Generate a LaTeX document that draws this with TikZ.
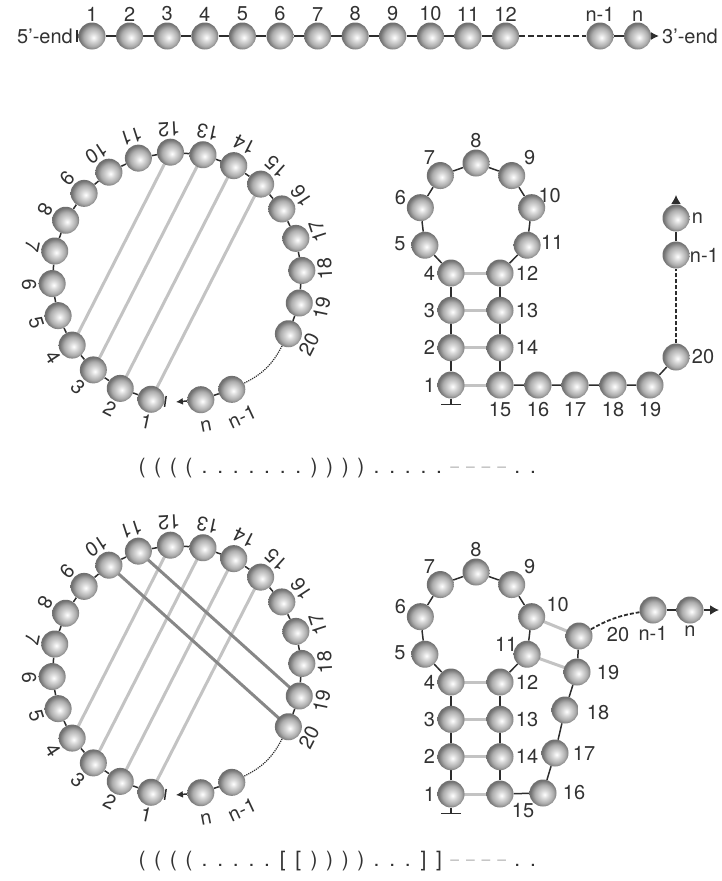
\documentclass[tikz,border=0pt]{standalone}
\usepackage{fontspec}
\setmainfont{TeX Gyre Heros}
\usetikzlibrary{arrows.meta,positioning,calc,backgrounds}

\definecolor{chainGray}{RGB}{45,45,45}
\definecolor{pairGray}{RGB}{195,195,195}
\definecolor{knotGray}{RGB}{135,135,135}
\definecolor{textGray}{RGB}{50,50,50}

\pgfdeclareradialshading{beadball}{\pgfqpoint{3bp}{-3bp}}{%
  color(0bp)=(white); color(7bp)=(black!14); color(17bp)=(black!32);
  color(25bp)=(black!56); color(50bp)=(black!56)}

\newcommand\brO{(}
\newcommand\brC{)}
\newcommand\sqO{[}
\newcommand\sqC{]}
\newcommand\dotU{.}
\newcommand\dashU{\textcolor{pairGray}{\scalebox{0.75}[1]{--}}}

\tikzset{
  bead/.style={circle,minimum size=27pt,inner sep=0pt,shading=beadball},
  chain/.style={chainGray,line width=1.5pt},
  pair/.style={pairGray,line width=3pt},
  knot/.style={knotGray,line width=3pt},
  lbl/.style={font=\fontsize{20}{20}\selectfont,text=textGray,inner sep=1pt},
  db/.style={font=\fontsize{21}{21}\selectfont,text=textGray,inner sep=0pt,anchor=base},
}

\begin{document}
\begin{tikzpicture}[x=1pt,y=1pt]
\useasboundingbox (0,0) rectangle (721,-881);

% linear chain
\foreach \k in {1,...,12}{
  \node[bead] (t\k) at ({92+37.6*(\k-1)},-36) {};
  \node[lbl,above=0pt of t\k] (tl\k) {\k};
}
\node[bead] (tn1) at (600,-36) {};
\node[bead] (tn) at (637.6,-36) {};
\node[lbl,above=0pt of tn1] (tln1) {n-1};
\node[lbl,above=0pt of tn] (tln) {n};
\coordinate (t5p) at (76,-36);
\coordinate (t3p) at (659,-36);
\node[lbl,anchor=east] (t5end) at (74,-36) {5'-end};
\node[lbl,anchor=west] (t3end) at (661,-36) {3'-end};
\begin{scope}[on background layer]
  \foreach \k in {2,...,12}{
    \pgfmathtruncatemacro\j{\k-1}
    \draw[chain] (t\j) -- (t\k);
  }
  \draw[chain,line width=2.2pt,dash pattern=on 6pt off 3pt] (t12) -- (tn1);
  \draw[chain] (tn1) -- (tn);
  \draw[chain,-{Bar[width=12pt]}] (t1) -- (t5p);
  \draw[chain,-{Latex[length=8pt,width=8pt]}] (tn) -- (t3p);
\end{scope}

% circular layouts
\foreach \cy/\cn in {-277/a,-670/b}{
  \begin{scope}[shift={(177,\cy)}]
    \foreach \k in {1,...,20}{
      \pgfmathsetmacro\ang{258-15*(\k-1)}
      \pgfmathsetmacro\rot{\ang+90}
      \node[bead] (\cn\k) at (\ang:125) {};
      \node[lbl,rotate=\rot] (\cn l\k) at (\ang:148) {\k};
    }
    \node[bead] (\cn n1) at (-64:125) {};
    \node[bead] (\cn n) at (-79:125) {};
    \node[lbl,rotate=25] (\cn ln1) at (-65:154) {n-1};
    \node[lbl,rotate=11] (\cn ln) at (-79:152) {n};
    \coordinate (\cn 5p) at (-95:125);
    \coordinate (\cn 3p) at (-90.5:125);
  \end{scope}
  \begin{scope}[on background layer]
    \foreach \k in {2,...,20}{
      \pgfmathtruncatemacro\j{\k-1}
      \draw[chain] (\cn\j) -- (\cn\k);
    }
    \draw[chain,line width=1.2pt,densely dotted] (\cn20) to[bend left=18] (\cn n1);
    \draw[chain] (\cn n1) -- (\cn n);
    \draw[chain,-{Bar[width=11pt]}] (\cn1) -- (\cn 5p);
    \draw[chain,-{Latex[length=7pt,width=7pt]}] (\cn n) -- (\cn 3p);
    \foreach \i/\j in {1/15,2/14,3/13,4/12}
      \draw[pair] (\cn\i.center) -- (\cn\j.center);
  \end{scope}
}
\begin{scope}[on background layer]
  \draw[knot] (b10.center) -- (b20.center);
  \draw[knot] (b11.center) -- (b19.center);
\end{scope}

% hairpins: stem and loop
\foreach \sy/\sn in {0/p,-409/q}{
  \foreach \k/\yy in {1/-385,2/-347.7,3/-310.3,4/-273}{
    \pgfmathtruncatemacro\m{16-\k}
    \node[bead] (\sn\k) at (451,\yy+\sy) {};
    \node[bead] (\sn\m) at (500,\yy+\sy) {};
    \node[lbl,left=1pt of \sn\k] (\sn l\k) {\k};
  }
  \foreach \k in {5,...,11}{
    \pgfmathsetmacro\ang{245-38.75*(\k-4)}
    \node[bead] (\sn\k) at ($(476,-220+\sy)+(\ang:57)$) {};
  }
  \foreach \k/\dx/\dy in {5/-25/2,6/-20/10,7/-11/18,8/0/22,9/18/18}
    \node[lbl] (\sn l\k) at ([shift={(\dx,\dy)}]\sn\k) {\k};
  \foreach \k in {12,13,14}
    \node[lbl,right=1pt of \sn\k] (\sn l\k) {\k};
  \coordinate (\sn 5p) at ([yshift=-20pt]\sn1.center);
  \begin{scope}[on background layer]
    \foreach \k in {2,...,15}{
      \pgfmathtruncatemacro\j{\k-1}
      \draw[chain] (\sn\j) -- (\sn\k);
    }
    \foreach \i/\j in {1/15,2/14,3/13,4/12}
      \draw[pair] (\sn\i.center) -- (\sn\j.center);
    \draw[chain,-{Bar[width=20pt]}] (\sn1) -- (\sn 5p);
  \end{scope}
}

% hairpin 1: tail
\node[bead] (p16) at (538,-385) {};
\node[bead] (p17) at (575,-385) {};
\node[bead] (p18) at (613,-385) {};
\node[bead] (p19) at (650,-385) {};
\node[bead] (p20) at (676,-357) {};
\node[bead] (pn1) at (676,-255) {};
\node[bead] (pn) at (676,-218) {};
\coordinate (p3p) at (676,-195);
\node[lbl] (pl10) at ([shift={(18,12)}]p10) {10};
\node[lbl] (pl11) at ([shift={(25,3)}]p11) {11};
\foreach \k in {15,...,19}
  \node[lbl,below=2pt of p\k] (pl\k) {\k};
\node[lbl,right=1pt of p20] (pl20) {20};
\node[lbl,inner sep=0pt,right=0pt of pn1] (pln1) {n-1};
\node[lbl,right=1pt of pn] (pln) {n};
\begin{scope}[on background layer]
  \draw[chain] (p15) -- (p16) -- (p17) -- (p18) -- (p19) -- (p20);
  \draw[chain,line width=1.8pt,dash pattern=on 4pt off 2pt] (p20) -- (pn1);
  \draw[chain] (pn1) -- (pn);
  \draw[chain,-{Latex[length=9pt,width=10pt]}] (pn) -- (p3p);
\end{scope}

% hairpin 2: tail with pseudoknot
\node[bead] (q16) at (543,-793) {};
\node[bead] (q17) at (555,-753) {};
\node[bead] (q18) at (565,-710) {};
\node[bead] (q19) at (577,-672) {};
\node[bead] (q20) at (579,-636) {};
\node[bead] (qn1) at (653,-610) {};
\node[bead] (qn) at (690,-610) {};
\coordinate (q3p) at (719,-610);
\node[lbl] (ql10) at ([shift={(26,12)}]q10) {10};
\node[lbl] (ql11) at ([shift={(-21,10)}]q11) {11};
\node[lbl] (ql15) at ([shift={(23,-17)}]q15) {15};
\foreach \k/\dx/\dy in {16/31/0,17/29/0,18/33/-3,19/31/-1,20/39/1}
  \node[lbl] (ql\k) at ([shift={(\dx,\dy)}]q\k) {\k};
\node[lbl,below=1pt of qn1] (qln1) {n-1};
\node[lbl,below=1pt of qn] (qln) {n};
\begin{scope}[on background layer]
  \draw[chain] (q15) -- (q16) -- (q17) -- (q18) -- (q19) -- (q20);
  \draw[chain,line width=1.8pt,dash pattern=on 4pt off 2pt] (q20) to[bend left=10] (qn1);
  \draw[chain] (qn1) -- (qn);
  \draw[chain,-{Latex[length=9pt,width=10pt]}] (qn) -- (q3p);
  \draw[pair] (q10.center) -- (q20.center);
  \draw[pair] (q11.center) -- (q19.center);
\end{scope}

% dot-bracket strings
\foreach \ch [count=\i] in {\brO,\brO,\brO,\brO,\dotU,\dotU,\dotU,\dotU,\dotU,\dotU,\dotU,\brC,\brC,\brC,\brC,\dotU,\dotU,\dotU,\dotU,\dotU,\dashU,\dashU,\dashU,\dashU,\dotU,\dotU}
  \node[db] (u\i) at ({142+15.64*(\i-1)},-473) {\ch};
\foreach \ch [count=\i] in {\brO,\brO,\brO,\brO,\dotU,\dotU,\dotU,\dotU,\dotU,\sqO,\sqO,\brC,\brC,\brC,\brC,\dotU,\dotU,\dotU,\sqC,\sqC,\dashU,\dashU,\dashU,\dashU,\dotU,\dotU}
  \node[db] (v\i) at ({142+15.64*(\i-1)},-866) {\ch};
\end{tikzpicture}
\end{document}
